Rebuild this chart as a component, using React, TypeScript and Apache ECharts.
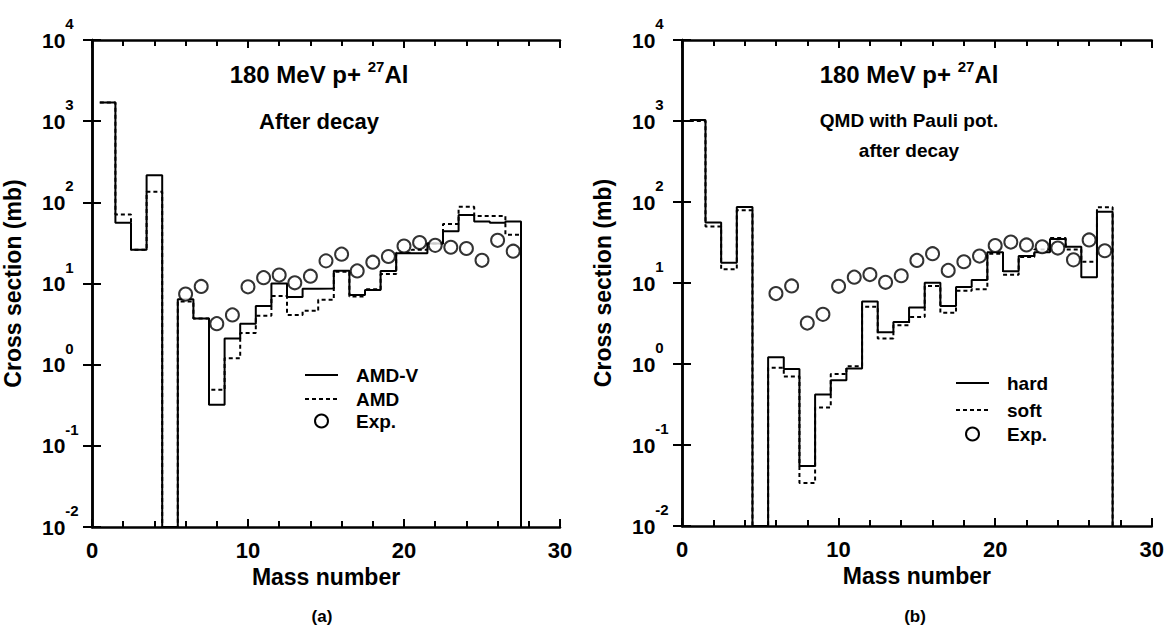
import React, { useEffect, useRef } from "react";
import * as echarts from "echarts";

// ---- data ----
const massNumbers = [1, 2, 3, 4, 5, 6, 7, 8, 9, 10, 11, 12, 13, 14, 15, 16, 17, 18, 19, 20, 21, 22, 23, 24, 25, 26, 27];
const amdV = [1700, 56, 26, 216, 0, 6.4, 3.7, 0.32, 2.1, 3.2, 5.3, 10, 6.8, 8.6, 8.7, 14.4, 7.2, 8.3, 14.3, 23.6, 23.6, 31, 44, 70, 58, 56, 58];
const amd = [1700, 71, 26, 135, 0, 6.0, 3.7, 0.49, 1.2, 2.45, 4.0, 7.0, 4.1, 4.6, 6.3, 14, 6.9, 8.5, 13.1, 24, 26, 31, 54, 88, 68, 68, 40];
const hard = [1030, 56, 17.8, 87, 0, 1.21, 0.87, 0.055, 0.42, 0.63, 0.88, 5.9, 2.46, 3.3, 5.0, 10.1, 5.2, 8.9, 10.9, 24, 14, 21.5, 24, 35, 28, 11.8, 76];
const soft = [1000, 50, 14.8, 79, 0, 0.9, 0.7, 0.034, 0.29, 0.75, 0.94, 5.1, 2.07, 3.0, 3.8, 9.2, 4.3, 8.0, 8.4, 23, 12.6, 21, 26, 36, 26, 18.3, 86];
const expMass = [6, 7, 8, 9, 10, 11, 12, 13, 14, 15, 16, 17, 18, 19, 20, 21, 22, 23, 24, 25, 26, 27];
const expVals = [7.4, 9.2, 3.2, 4.1, 9.1, 11.8, 12.7, 10.2, 12.3, 19, 23, 14.3, 18.3, 21.5, 29, 32, 29.5, 28, 27, 19.3, 34, 25];

const X_MIN = 0;
const X_MAX = 30;
const Y_MIN = 0.01;
const Y_MAX = 10000;

const FONT = '"Liberation Sans", Arial, Helvetica, sans-serif';

function steps(vals: number[]): number[][] {
  const pts: number[][] = [];
  massNumbers.forEach((a, i) => {
    const v = vals[i] > 0 ? vals[i] : Y_MIN;
    pts.push([a - 0.5, v], [a + 0.5, v]);
  });
  pts.push([massNumbers[massNumbers.length - 1] + 0.5, Y_MIN]);
  return pts;
}

const expPoints = expMass.map((a, i) => [a, expVals[i]]);

function makeAxes(gridIndex: number) {
  const tickStyle = { lineStyle: { color: "#000", width: 2 } };
  const xBase = {
    type: "value",
    gridIndex,
    min: X_MIN,
    max: X_MAX,
    interval: 10,
    splitLine: { show: false },
    axisLine: { show: true, lineStyle: { color: "#000", width: 2.5 } },
    axisTick: { show: true, inside: true, length: 8, ...tickStyle },
    minorTick: { show: true, splitNumber: 5, length: 6, lineStyle: { color: "#000", width: 2 } },
  };
  const yBase = {
    type: "log",
    logBase: 10,
    gridIndex,
    min: Y_MIN,
    max: Y_MAX,
    splitNumber: 6,
    splitLine: { show: false },
    axisLine: { show: true, lineStyle: { color: "#000", width: 2.5 } },
    axisTick: { show: true, inside: true, length: 9, ...tickStyle },
    minorTick: { show: false },
  };
  const xAxes = [
    {
      ...xBase,
      position: "bottom",
      name: "Mass number",
      nameLocation: "middle",
      nameGap: 37,
      nameTextStyle: { fontFamily: FONT, fontSize: 23, fontWeight: "bold", color: "#000" },
      axisLabel: { show: true, margin: 12, fontFamily: FONT, fontSize: 22, fontWeight: "bold", color: "#000" },
    },
    { ...xBase, position: "top", axisLabel: { show: false } },
  ];
  const yAxes = [
    {
      ...yBase,
      position: "left",
      name: "Cross section (mb)",
      nameLocation: "middle",
      nameGap: 68,
      nameTextStyle: { fontFamily: FONT, fontSize: 23, fontWeight: "bold", color: "#000" },
      axisLabel: {
        show: true,
        align: "left",
        margin: 50,
        formatter: (v: number) => `{b|10}{s|${Math.round(Math.log10(v))}}`,
        rich: {
          b: { fontFamily: FONT, fontSize: 21, fontWeight: "bold", color: "#000", lineHeight: 48 },
          s: { fontFamily: FONT, fontSize: 15, fontWeight: "bold", color: "#000", verticalAlign: "top", lineHeight: 16 },
        },
      },
    },
    { ...yBase, position: "right", axisLabel: { show: false } },
  ];
  return { xAxes, yAxes };
}

function legendBlock(x0: number, y0: number, names: string[], gap: number[]) {
  const items: any[] = [];
  const lineX1 = x0;
  const lineX2 = x0 + 33;
  const textX = x0 + 51;
  const ys = [y0, y0 + gap[0], y0 + gap[0] + gap[1]];
  items.push({ type: "line", shape: { x1: lineX1, y1: ys[0], x2: lineX2, y2: ys[0] }, style: { stroke: "#000", lineWidth: 2 } });
  items.push({ type: "line", shape: { x1: lineX1, y1: ys[1], x2: lineX2, y2: ys[1] }, style: { stroke: "#000", lineWidth: 2, lineDash: [4, 3] } });
  items.push({ type: "circle", shape: { cx: (lineX1 + lineX2) / 2, cy: ys[2], r: 6.5 }, style: { stroke: "#000", fill: "#fff", lineWidth: 2 } });
  names.forEach((n, i) => {
    items.push({
      type: "text",
      x: textX,
      y: ys[i],
      style: { text: n, fontFamily: FONT, fontSize: 19, fontWeight: "bold", fill: "#000", align: "left", verticalAlign: "middle" },
    });
  });
  return items;
}

function titleText(cx: number, cy: number) {
  return {
    type: "text",
    x: cx,
    y: cy,
    style: {
      text: "{t|180 MeV p+ }{s|27}{t|Al}",
      align: "center",
      verticalAlign: "middle",
      rich: {
        t: { fontFamily: FONT, fontSize: 24, fontWeight: "bold", fill: "#000", color: "#000", lineHeight: 30 },
        s: { fontFamily: FONT, fontSize: 15, fontWeight: "bold", fill: "#000", color: "#000", verticalAlign: "top", lineHeight: 16 },
      },
    },
  };
}

function plainText(cx: number, cy: number, text: string, size: number) {
  return {
    type: "text",
    x: cx,
    y: cy,
    style: { text, fontFamily: FONT, fontSize: size, fontWeight: "bold", fill: "#000", align: "center", verticalAlign: "middle" },
  };
}

export default function App() {
  const ref = useRef<HTMLDivElement>(null);
  useEffect(() => {
    if (!ref.current) return;
    const chart = echarts.init(ref.current, undefined, { renderer: "svg" });
    const a = makeAxes(0);
    const b = makeAxes(1);
    const lineBase = { type: "line", symbol: "none", showSymbol: false, silent: true };
    const option: any = {
      animation: false,
      backgroundColor: "#fff",
      grid: [
        { left: 90, top: 40, width: 470, height: 487 },
        { left: 682, top: 40, width: 472, height: 486 },
      ],
      xAxis: [...a.xAxes, ...b.xAxes],
      yAxis: [...a.yAxes, ...b.yAxes],
      series: [
        { ...lineBase, name: "AMD-V", xAxisIndex: 0, yAxisIndex: 0, data: steps(amdV), lineStyle: { color: "#000", width: 2 }, z: 3 },
        { ...lineBase, name: "AMD", xAxisIndex: 0, yAxisIndex: 0, data: steps(amd), lineStyle: { color: "#000", width: 2, type: [4, 3] }, z: 4 },
        {
          type: "scatter", name: "Exp.", xAxisIndex: 0, yAxisIndex: 0, data: expPoints, symbol: "circle", symbolSize: 13,
          itemStyle: { color: "#fff", borderColor: "#000", borderWidth: 2 }, z: 5,
        },
        { ...lineBase, name: "hard", xAxisIndex: 2, yAxisIndex: 2, data: steps(hard), lineStyle: { color: "#000", width: 2 }, z: 3 },
        { ...lineBase, name: "soft", xAxisIndex: 2, yAxisIndex: 2, data: steps(soft), lineStyle: { color: "#000", width: 2, type: [4, 3] }, z: 4 },
        {
          type: "scatter", name: "Exp.", xAxisIndex: 2, yAxisIndex: 2, data: expPoints, symbol: "circle", symbolSize: 13,
          itemStyle: { color: "#fff", borderColor: "#000", borderWidth: 2 }, z: 5,
        },
      ],
      graphic: [
        titleText(319, 74),
        plainText(319, 121, "After decay", 22),
        titleText(909, 74),
        plainText(909, 120, "QMD with Pauli pot.", 19),
        plainText(909, 150, "after decay", 19),
        ...legendBlock(305, 375, ["AMD-V", "AMD", "Exp."], [24, 22]),
        ...legendBlock(956, 383, ["hard", "soft", "Exp."], [27, 24]),
        plainText(322, 616, "(a)", 17),
        plainText(915, 616, "(b)", 17),
      ],
    };
    chart.setOption(option);
    return () => chart.dispose();
  }, []);
  return (
    <div
      ref={ref}
      style={{ position: "fixed", left: 0, top: 0, width: 1167, height: 643, background: "#fff" }}
    />
  );
}
